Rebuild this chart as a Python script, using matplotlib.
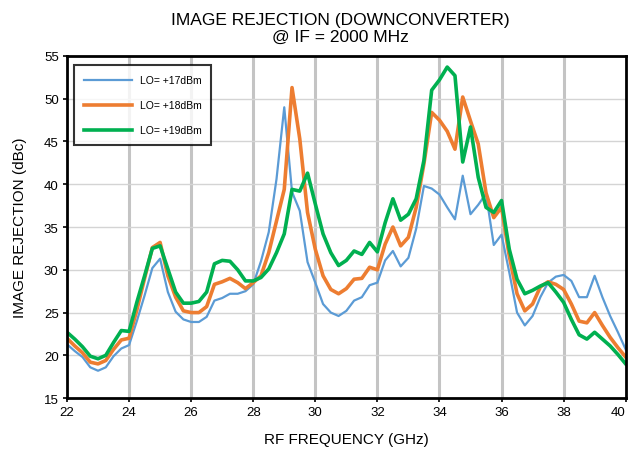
import matplotlib
matplotlib.use('Agg')
import matplotlib.pyplot as plt

# RF frequency (GHz), 0.25 GHz steps
freq = [22.0, 22.25, 22.5, 22.75, 23.0, 23.25, 23.5, 23.75, 24.0, 24.25, 24.5, 24.75,
        25.0, 25.25, 25.5, 25.75, 26.0, 26.25, 26.5, 26.75, 27.0, 27.25, 27.5, 27.75,
        28.0, 28.25, 28.5, 28.75, 29.0, 29.25, 29.5, 29.75, 30.0, 30.25, 30.5, 30.75,
        31.0, 31.25, 31.5, 31.75, 32.0, 32.25, 32.5, 32.75, 33.0, 33.25, 33.5, 33.75,
        34.0, 34.25, 34.5, 34.75, 35.0, 35.25, 35.5, 35.75, 36.0, 36.25, 36.5, 36.75,
        37.0, 37.25, 37.5, 37.75, 38.0, 38.25, 38.5, 38.75, 39.0, 39.25, 39.5, 39.75, 40.0]

lo17 = [21.3, 20.5, 19.8, 18.6, 18.2, 18.6, 19.9, 20.8, 21.2, 24.0, 27.0, 30.2,
        31.3, 27.4, 25.1, 24.2, 23.9, 23.9, 24.5, 26.4, 26.7, 27.2, 27.2, 27.5,
        28.3, 31.0, 34.4, 40.6, 49.0, 39.1, 36.9, 30.9, 28.5, 26.0, 25.0, 24.6,
        25.2, 26.4, 26.8, 28.2, 28.5, 31.1, 32.2, 30.4, 31.4, 34.8, 39.8, 39.5,
        38.8, 37.3, 35.9, 41.0, 36.5, 37.6, 38.9, 32.9, 34.1, 29.7, 25.0, 23.5,
        24.6, 26.8, 28.5, 29.2, 29.4, 28.7, 26.8, 26.8, 29.3, 26.8, 24.6, 22.7, 20.7]

lo18 = [22.0, 21.1, 20.3, 19.2, 19.0, 19.4, 20.7, 21.8, 22.0, 25.3, 29.0, 32.6,
        33.2, 29.3, 26.8, 25.2, 25.0, 25.0, 25.7, 28.3, 28.6, 29.0, 28.5, 27.8,
        28.5, 29.3, 32.0, 35.7, 39.4, 51.3, 45.3, 36.7, 32.4, 29.3, 27.7, 27.2,
        27.8, 28.9, 29.0, 30.3, 30.0, 33.0, 35.0, 32.8, 33.8, 37.3, 42.4, 48.4,
        47.5, 46.2, 44.1, 50.2, 47.4, 44.7, 39.0, 36.1, 37.3, 31.6, 27.2, 25.2,
        26.0, 28.0, 28.6, 28.3, 27.7, 26.0, 24.0, 23.8, 25.0, 23.5, 22.1, 20.9, 19.8]

lo19 = [22.7, 21.9, 21.0, 19.9, 19.6, 20.0, 21.5, 22.9, 22.8, 26.2, 29.3, 32.5,
        32.8, 30.1, 27.4, 26.1, 26.1, 26.3, 27.4, 30.7, 31.1, 31.0, 30.0, 28.7,
        28.7, 29.1, 30.1, 32.0, 34.2, 39.4, 39.2, 41.3, 37.7, 34.2, 32.0, 30.5,
        31.1, 32.2, 31.8, 33.2, 32.1, 35.5, 38.3, 35.8, 36.5, 38.3, 42.8, 51.0,
        52.2, 53.7, 52.7, 42.6, 46.7, 40.8, 37.3, 36.7, 38.1, 32.4, 28.9, 27.2,
        27.6, 28.1, 28.5, 27.4, 26.2, 24.2, 22.4, 21.9, 22.7, 21.9, 21.1, 20.1, 19.0]

labels = ['LO= +17dBm', 'LO= +18dBm', 'LO= +19dBm']

plt.rcParams['font.family'] = ['Liberation Sans', 'DejaVu Sans']

fig = plt.figure(figsize=(6.32, 4.52), dpi=100)
ax = fig.add_axes([0.106, 0.117, 0.884, 0.757])

ax.plot(freq, lo17, color='#5B9BD5', lw=1.6, label=labels[0], zorder=3)
ax.plot(freq, lo18, color='#ED7D31', lw=2.6, label=labels[1], zorder=4)
ax.plot(freq, lo19, color='#00B050', lw=2.6, label=labels[2], zorder=5)

ax.set_xlim(22, 40)
ax.set_ylim(15, 55)
ax.set_xticks(range(22, 41, 2))
ax.set_yticks(range(15, 56, 5))

# grid: thick gray verticals, thin horizontals
for x in range(24, 40, 2):
    ax.axvline(x, color='#c4c4c4', lw=2.2, zorder=1)
for y in range(20, 55, 5):
    ax.axhline(y, color='#d4d4d4', lw=1.0, zorder=1)

for s in ax.spines.values():
    s.set_linewidth(2.0)
    s.set_color('black')
    s.set_zorder(6)

ax.tick_params(direction='out', length=3, width=1.2, labelsize=9.5, pad=3)
# keep the last x label inside the canvas
ax.get_xticklabels()[-1].set_horizontalalignment('right')
ax.get_xticklabels()[-1].set_x(40)

ax.set_xlabel('RF FREQUENCY (GHz)', fontsize=11, labelpad=10)
ax.set_ylabel('IMAGE REJECTION (dBc)', fontsize=11, labelpad=12)
ax.set_title('IMAGE REJECTION (DOWNCONVERTER)\n@ IF = 2000 MHz', fontsize=12.5,
             pad=11, linespacing=1.15, x=0.49)

leg = ax.legend(loc='upper left', bbox_to_anchor=(0.004, 0.988), fontsize=7.5,
                frameon=True, fancybox=False, edgecolor='black', handlelength=4.6,
                labelspacing=1.45, borderpad=0.95, handletextpad=0.7)
leg.get_frame().set_linewidth(1.5)
leg.set_zorder(7)

fig.savefig('out.png', dpi=100)
